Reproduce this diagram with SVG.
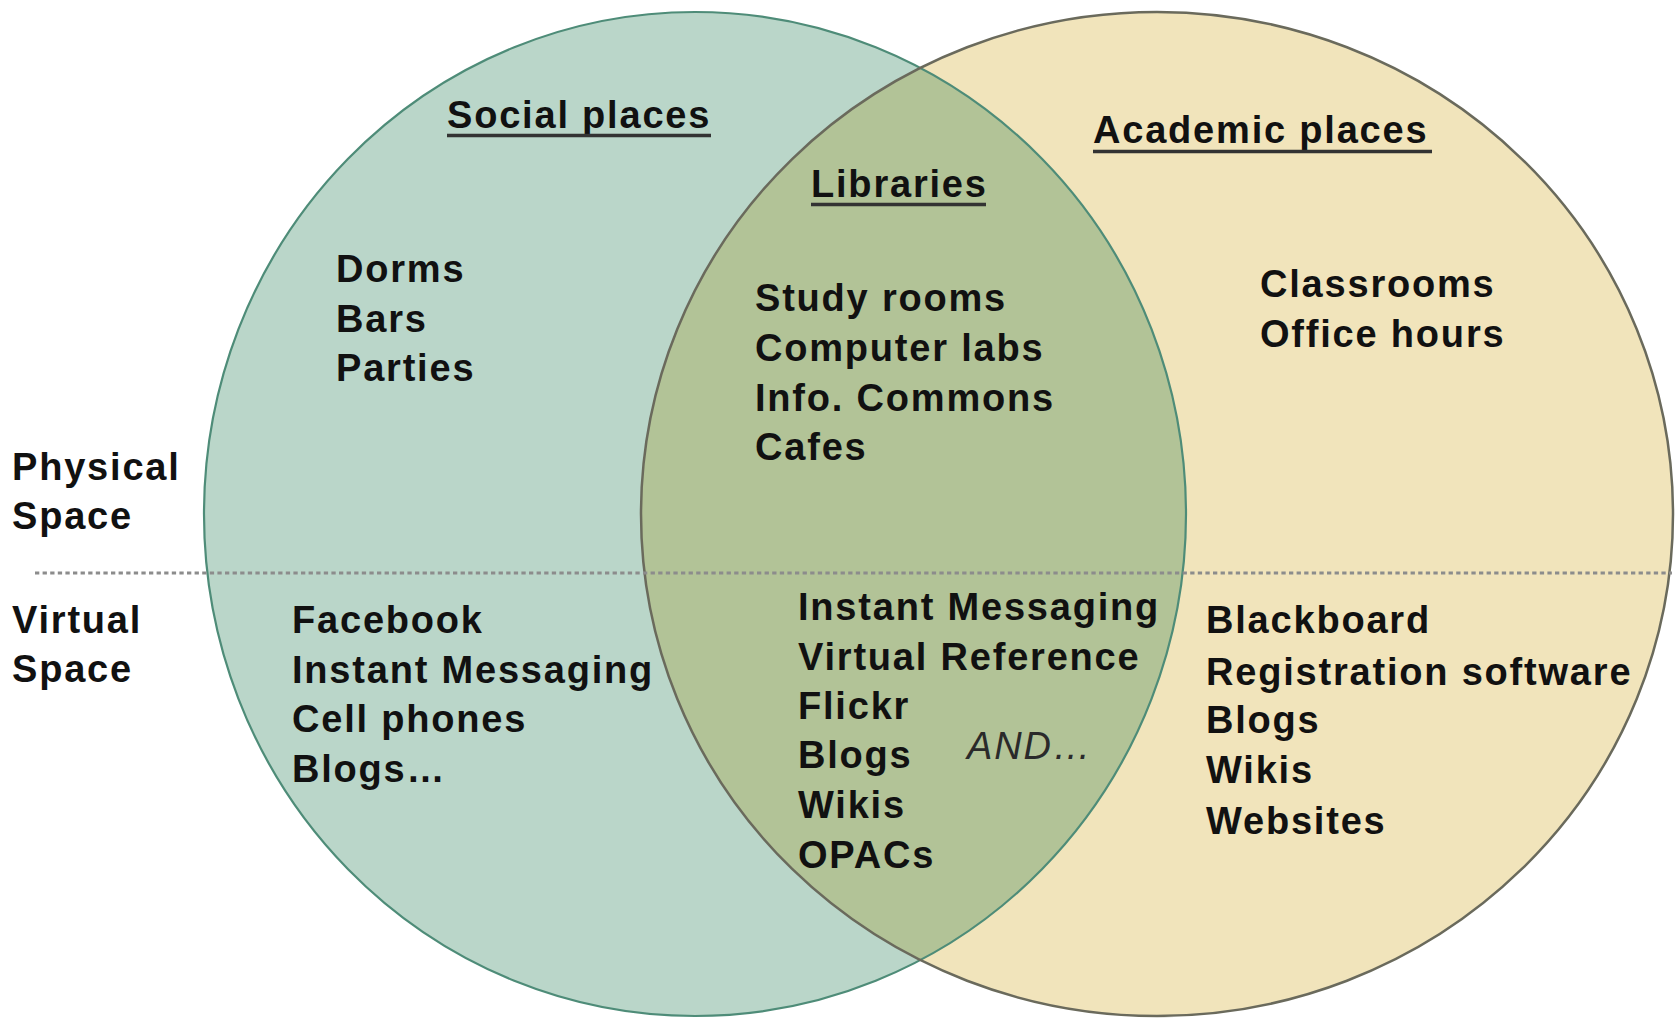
<svg xmlns="http://www.w3.org/2000/svg" width="1680" height="1019" viewBox="0 0 1680 1019">
  <style>
    .t { font-family: "Liberation Sans", Arial, Helvetica, sans-serif; font-weight: bold; font-size: 38px; letter-spacing: 1.8px; fill: #111111; }
    .it { font-family: "Liberation Sans", Arial, Helvetica, sans-serif; font-style: italic; font-size: 38px; letter-spacing: 1.8px; fill: #2a2a2a; }
    .ul { stroke: #333333; stroke-width: 3.5; }
  </style>
  <defs>
    <clipPath id="clipRight">
      <ellipse cx="1157" cy="514" rx="516" ry="502"/>
    </clipPath>
  </defs>
  <rect width="1680" height="1019" fill="#ffffff"/>

  <g id="academic-places">
    <ellipse cx="1157" cy="514" rx="516" ry="502" fill="#f1e4bb"/>
  </g>
  <g id="social-places">
    <ellipse cx="695" cy="514" rx="491" ry="502" fill="#bad6c9"/>
  </g>
  <g id="libraries">
    <ellipse cx="695" cy="514" rx="491" ry="502" fill="#b2c397" clip-path="url(#clipRight)"/>
  </g>

  <g id="outlines" fill="none">
    <ellipse cx="695" cy="514" rx="491" ry="502" stroke="#4e8c78" stroke-width="2.2"/>
    <ellipse cx="1157" cy="514" rx="516" ry="502" stroke="#6a6a5c" stroke-width="2.5"/>
  </g>

  <g id="connectors">
    <line x1="35" y1="573" x2="1672" y2="573" stroke="#8c8c8c" stroke-width="3" stroke-dasharray="4.3 3.3"/>
  </g>

  <g id="axis-labels">
    <text class="t" x="12" y="480">Physical</text>
    <text class="t" x="12" y="529">Space</text>
    <text class="t" x="12" y="633">Virtual</text>
    <text class="t" x="12" y="682">Space</text>
  </g>

  <g id="social-text">
    <text class="t" x="447" y="128">Social places</text>
    <line class="ul" x1="447" y1="135.5" x2="711" y2="135.5"/>
    <text class="t" x="336" y="282">Dorms</text>
    <text class="t" x="336" y="332">Bars</text>
    <text class="t" x="336" y="381">Parties</text>
    <text class="t" x="292" y="633">Facebook</text>
    <text class="t" x="292" y="683">Instant Messaging</text>
    <text class="t" x="292" y="732">Cell phones</text>
    <text class="t" x="292" y="782">Blogs…</text>
  </g>

  <g id="libraries-text">
    <text class="t" x="811" y="197">Libraries</text>
    <line class="ul" x1="811" y1="204.5" x2="986" y2="204.5"/>
    <text class="t" x="755" y="311">Study rooms</text>
    <text class="t" x="755" y="361">Computer labs</text>
    <text class="t" x="755" y="411">Info. Commons</text>
    <text class="t" x="755" y="460">Cafes</text>
    <text class="t" x="798" y="620">Instant Messaging</text>
    <text class="t" x="798" y="670">Virtual Reference</text>
    <text class="t" x="798" y="719">Flickr</text>
    <text class="t" x="798" y="768">Blogs</text>
    <text class="t" x="798" y="818">Wikis</text>
    <text class="t" x="798" y="868">OPACs</text>
    <text class="it" x="967" y="759">AND…</text>
  </g>

  <g id="academic-text">
    <text class="t" x="1093" y="143">Academic places</text>
    <line class="ul" x1="1093" y1="151.5" x2="1432" y2="151.5"/>
    <text class="t" x="1260" y="297">Classrooms</text>
    <text class="t" x="1260" y="347">Office hours</text>
    <text class="t" x="1206" y="633">Blackboard</text>
    <text class="t" x="1206" y="685">Registration software</text>
    <text class="t" x="1206" y="733">Blogs</text>
    <text class="t" x="1206" y="783">Wikis</text>
    <text class="t" x="1206" y="834">Websites</text>
  </g>
</svg>
